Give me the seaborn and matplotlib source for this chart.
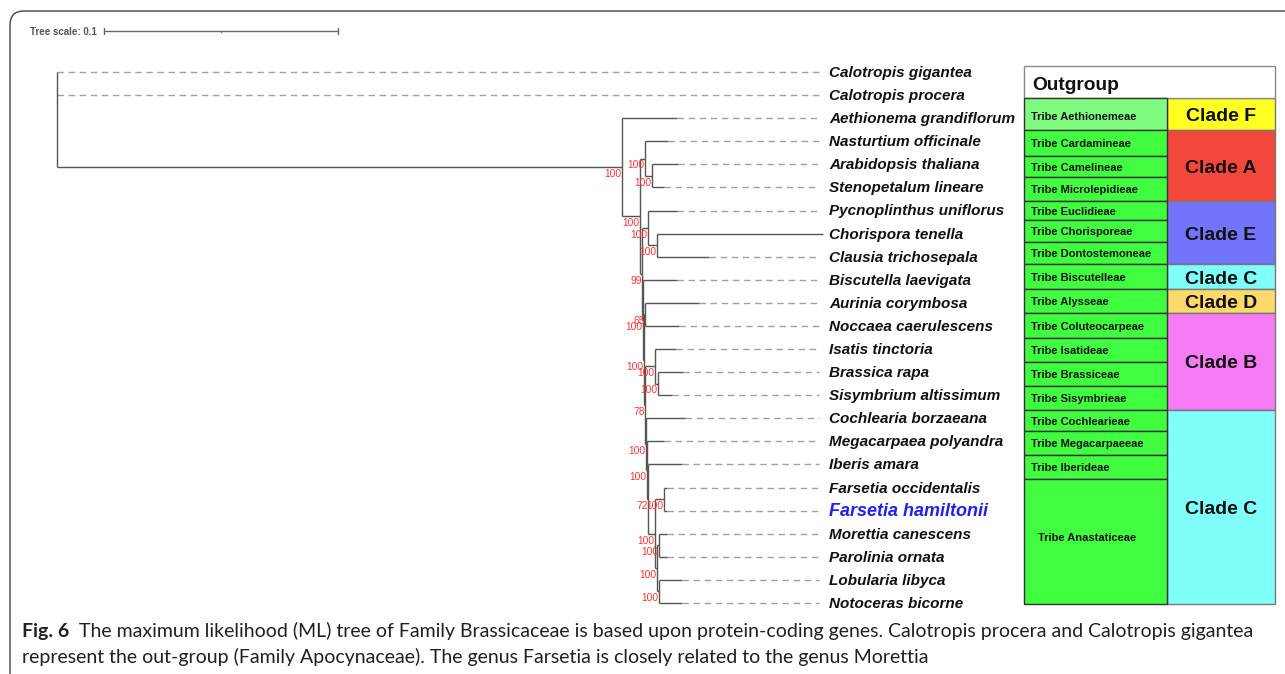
import matplotlib
matplotlib.use("Agg")
import matplotlib.pyplot as plt
from matplotlib.patches import Rectangle, FancyBboxPatch
from matplotlib import transforms
import numpy as np
import pandas as pd
import seaborn as sns

# ---------------- data ----------------
LEAVES = ["Calotropis gigantea", "Calotropis procera", "Aethionema grandiflorum",
          "Nasturtium officinale", "Arabidopsis thaliana", "Stenopetalum lineare",
          "Pycnoplinthus uniflorus", "Chorispora tenella", "Clausia trichosepala",
          "Biscutella laevigata", "Aurinia corymbosa", "Noccaea caerulescens",
          "Isatis tinctoria", "Brassica rapa", "Sisymbrium altissimum",
          "Cochlearia borzaeana", "Megacarpaea polyandra", "Iberis amara",
          "Farsetia occidentalis", "Farsetia hamiltonii", "Morettia canescens",
          "Parolinia ornata", "Lobularia libyca", "Notoceras bicorne"]
LEAF_DEPTH = [0.0, 0.0, 0.2650, 0.2611, 0.2654, 0.2594, 0.2650, 0.3274, 0.2786,
              0.2650, 0.2744, 0.2658, 0.2645, 0.2675, 0.2628, 0.2684, 0.2594,
              0.2671, 0.2607, 0.2607, 0.2607, 0.2607, 0.2671, 0.2671]
HIGHLIGHT = "Farsetia hamiltonii"

NODE_NAMES = ["root", "n1", "n2", "n3", "n4", "n5", "n6", "n7", "n8", "n9", "n10",
              "n11", "n12", "n13", "n14", "n15", "n16", "n17", "n18", "n19", "n20", "n21"]
NODE_CHILDREN = [
    ["Calotropis gigantea", "Calotropis procera", "n1"],
    ["Aethionema grandiflorum", "n2"],
    ["n3", "n5"],
    ["Nasturtium officinale", "n4"],
    ["Arabidopsis thaliana", "Stenopetalum lineare"],
    ["n6", "n8"],
    ["Pycnoplinthus uniflorus", "n7"],
    ["Chorispora tenella", "Clausia trichosepala"],
    ["Biscutella laevigata", "n9"],
    ["n10", "n11"],
    ["Aurinia corymbosa", "Noccaea caerulescens"],
    ["n12", "n14"],
    ["Isatis tinctoria", "n13"],
    ["Brassica rapa", "Sisymbrium altissimum"],
    ["Cochlearia borzaeana", "n15"],
    ["Megacarpaea polyandra", "n16"],
    ["Iberis amara", "n17"],
    ["n18", "n19"],
    ["Farsetia occidentalis", "Farsetia hamiltonii"],
    ["n20", "n21"],
    ["Morettia canescens", "Parolinia ornata"],
    ["Lobularia libyca", "Notoceras bicorne"],
]
NODE_DEPTH = [0.0, 0.2415, 0.2491, 0.2513, 0.2543, 0.2500, 0.2526, 0.2564, 0.2504,
              0.2509, 0.2513, 0.2513, 0.2556, 0.2568, 0.2517, 0.2521, 0.2526, 0.2556,
              0.2594, 0.2564, 0.2573, 0.2573]
NODE_SUPPORT = [None, 100, 100, 100, 100, 99, 100, 100, 100, 100, 65, 78, 100, 100,
                100, 100, 72, 100, 100, 100, 100, 100]
SCALE_LEN = 0.1

OUTGROUP_LABEL = "Outgroup"
OUTGROUP_ROWS = (-0.26, 1.126)
TRIBE_LABELS = ["Tribe Aethionemeae", "Tribe Cardamineae", "Tribe Camelineae",
                "Tribe Microlepidieae", "Tribe Euclidieae", "Tribe Chorisporeae",
                "Tribe Dontostemoneae", "Tribe Biscutelleae", "Tribe Alysseae",
                "Tribe Coluteocarpeae", "Tribe Isatideae", "Tribe Brassiceae",
                "Tribe Sisymbrieae", "Tribe Cochlearieae", "Tribe Megacarpaeeae",
                "Tribe Iberideae", "Tribe Anastaticeae"]
TRIBE_EDGES = [1.126, 2.512, 3.638, 4.548, 5.588, 6.411, 7.364, 8.338, 9.399, 10.439,
               11.522, 12.561, 13.601, 14.640, 15.550, 16.590, 17.629, 23.043]
TRIBE_COLORS = ["#80fd80"] + ["#40fd40"] * 16
CLADE_LABELS = ["Clade F", "Clade A", "Clade E", "Clade C", "Clade D", "Clade B", "Clade C"]
CLADE_FIRST_TRIBE = [0, 1, 4, 7, 8, 9, 13]
CLADE_LAST_TRIBE = [0, 3, 6, 7, 8, 12, 16]
CLADE_COLORS = ["#ffff22", "#f4473c", "#7373fb", "#80fffa", "#fdd86b", "#f67cf6", "#80fffa"]

CAPTION_BOLD = "Fig. 6"
CAPTION_LINE1 = ("The maximum likelihood (ML) tree of Family Brassicaceae is based upon "
                 "protein-coding genes. Calotropis procera and Calotropis gigantea")
CAPTION_LINE2 = ("represent the out-group (Family Apocynaceae). The genus Farsetia is "
                 "closely related to the genus Morettia")

# ---------------- layout ----------------
W, H, DPI = 1285, 674, 100
ROOT_PX, PX_PER_UNIT = 57.0, 2340.0
ROW0_PX, ROW_PX = 72.0, 531.0 / 23.0

sns.set_theme(style="white")
plt.rcParams["font.family"] = ["Liberation Sans", "DejaVu Sans"]

fig = plt.figure(figsize=(W / DPI, H / DPI), dpi=DPI)
ax = fig.add_axes([0, 0, 1, 1])


def px_to_depth(px):
    return (px - ROOT_PX) / PX_PER_UNIT


def px_to_row(py):
    return (py - ROW0_PX) / ROW_PX


XLIM = (px_to_depth(0), px_to_depth(W))
YLIM = (px_to_row(H), px_to_row(0))

# ---------------- tree geometry ----------------
depth = dict(zip(LEAVES, LEAF_DEPTH))
depth.update(dict(zip(NODE_NAMES, NODE_DEPTH)))
children = dict(zip(NODE_NAMES, NODE_CHILDREN))
ypos = {name: float(i) for i, name in enumerate(LEAVES)}


def get_y(name):
    if name not in ypos:
        ch = children[name]
        ypos[name] = (get_y(ch[0]) + get_y(ch[-1])) / 2.0
    return ypos[name]


for n in NODE_NAMES:
    get_y(n)

rows = []
seg = 0
for n in NODE_NAMES:
    ch = children[n]
    rows += [(seg, depth[n], ypos[ch[0]]), (seg, depth[n], ypos[ch[-1]])]
    seg += 1
    for c in ch:
        rows += [(seg, depth[n], ypos[c]), (seg, depth[c], ypos[c])]
        seg += 1
branches = pd.DataFrame(rows, columns=["seg", "x", "y"])

LABEL_X = px_to_depth(829)
DASH_END = px_to_depth(819)
drows = []
for i, name in enumerate(LEAVES):
    if depth[name] < DASH_END:
        drows += [(i, depth[name], ypos[name]), (i, DASH_END, ypos[name])]
dashes_df = pd.DataFrame(drows, columns=["seg", "x", "y"])

sns.lineplot(data=dashes_df, x="x", y="y", units="seg", estimator=None, sort=False,
             color="#a0a0a0", lw=1.0, linestyle=(0, (4.6, 3.4)), legend=False, ax=ax)
sns.lineplot(data=branches, x="x", y="y", units="seg", estimator=None, sort=False,
             color="#555555", lw=1.0, legend=False, ax=ax, solid_capstyle="butt")

for n, s in zip(NODE_NAMES, NODE_SUPPORT):
    if s is None:
        continue
    ax.annotate(str(s), (depth[n], ypos[n]), xytext=(-0.2, -4.9), textcoords="offset points",
                ha="right", va="center", fontsize=7.4, color="#ff3535")

for name in LEAVES:
    if name == HIGHLIGHT:
        ax.annotate(name, (LABEL_X, ypos[name]), xytext=(0, -0.8), textcoords="offset points",
                    ha="left", va="center", fontsize=13, fontweight="bold",
                    fontstyle="italic", color="#1f1ff5")
    else:
        ax.annotate(name, (LABEL_X, ypos[name]), xytext=(0, -0.7), textcoords="offset points",
                    ha="left", va="center", fontsize=11, fontweight="bold",
                    fontstyle="italic", color="#111111")

# tree scale bar
sb_x0 = px_to_depth(104)
sb_y = px_to_row(31)
ax.plot([sb_x0, sb_x0 + SCALE_LEN], [sb_y, sb_y], color="#666666", lw=1.0)
tick = 0.11
for xx in (sb_x0, sb_x0 + SCALE_LEN):
    ax.plot([xx, xx], [sb_y - tick, sb_y + tick], color="#666666", lw=1.0)
ax.plot([sb_x0 + SCALE_LEN / 2] * 2, [sb_y, sb_y + 0.05], color="#666666", lw=1.0)
ax.annotate(f"Tree scale: {SCALE_LEN}", (px_to_depth(30), sb_y), xytext=(0, -0.6),
            textcoords="offset points", ha="left", va="center",
            fontsize=7, fontweight="bold", color="#555555")

# ---------------- annotation boxes ----------------
blend = transforms.blended_transform_factory(ax.transAxes, ax.transData)
X_T0, X_T1, X_C1 = 1024 / W, 1167 / W, 1275 / W

ax.add_patch(Rectangle((X_T0, OUTGROUP_ROWS[0]), X_C1 - X_T0,
                       OUTGROUP_ROWS[1] - OUTGROUP_ROWS[0], transform=blend,
                       facecolor="white", edgecolor="#8a8a8a", lw=1.0, zorder=3))
ax.annotate(OUTGROUP_LABEL, (1032 / W, (OUTGROUP_ROWS[0] + OUTGROUP_ROWS[1]) / 2),
            xycoords=blend, xytext=(0, -2.5), textcoords="offset points",
            ha="left", va="center", fontsize=13.8, fontweight="bold",
            color="#111111", zorder=4)

for k, lab in enumerate(TRIBE_LABELS):
    y0, y1 = TRIBE_EDGES[k], TRIBE_EDGES[k + 1]
    ax.add_patch(Rectangle((X_T0, y0), X_T1 - X_T0, y1 - y0, transform=blend,
                           facecolor=TRIBE_COLORS[k], edgecolor="#333333", lw=1.0, zorder=3))
    tx = 1031 / W if k < len(TRIBE_LABELS) - 1 else 1038 / W
    dy = -2.5 if k == 0 else (2.5 if k == len(TRIBE_LABELS) - 1 else -0.8)
    ax.annotate(lab, (tx, (y0 + y1) / 2), xycoords=blend, xytext=(0, dy),
                textcoords="offset points", ha="left", va="center",
                fontsize=8, fontweight="bold", color="#111111", zorder=4)

for lab, a, b, col in zip(CLADE_LABELS, CLADE_FIRST_TRIBE, CLADE_LAST_TRIBE, CLADE_COLORS):
    y0, y1 = TRIBE_EDGES[a], TRIBE_EDGES[b + 1]
    ax.add_patch(Rectangle((X_T1, y0), X_T1 - X_T1 + (X_C1 - X_T1), y1 - y0, transform=blend,
                           facecolor=col, edgecolor="#777777", lw=1.0, zorder=2.9))
    ax.annotate(lab, ((X_T1 + X_C1) / 2, (y0 + y1) / 2), xycoords=blend, xytext=(0, -1.8),
                textcoords="offset points", ha="center", va="center",
                fontsize=14, fontweight="bold", color="#111111", zorder=4)

ax.set_xlim(*XLIM)
ax.set_ylim(*YLIM)
ax.axis("off")

# ---------------- frame ----------------
frame = FancyBboxPatch((10, -30), 1400, H - 11 + 30, boxstyle="round,pad=0,rounding_size=14",
                       transform=transforms.IdentityTransform(), fill=False,
                       edgecolor="#444444", lw=1.0)
fig.patches.append(frame)

# ---------------- caption ----------------
cap_font = ["Lato", "DejaVu Sans"]
renderer = fig.canvas.get_renderer()
fs = 13.0
for _ in range(3):
    for t in list(fig.texts):
        t.remove()
    tb = fig.text(22 / W, 1 - 631 / H, CAPTION_BOLD, ha="left", va="center", fontsize=fs,
                  fontweight="bold", family=cap_font, color="#231f20")
    bb = tb.get_window_extent(renderer)
    x1 = bb.x1 + 10
    t1 = fig.text(x1 / W, 1 - 631 / H, CAPTION_LINE1, ha="left", va="center", fontsize=fs,
                  family=cap_font, color="#231f20")
    t2 = fig.text(22 / W, 1 - 657 / H, CAPTION_LINE2, ha="left", va="center", fontsize=fs,
                  family=cap_font, color="#231f20")
    end = t1.get_window_extent(renderer).x1
    fs = fs * (1255 - 22) / (end - 22)

fig.savefig("out.png", dpi=DPI)
